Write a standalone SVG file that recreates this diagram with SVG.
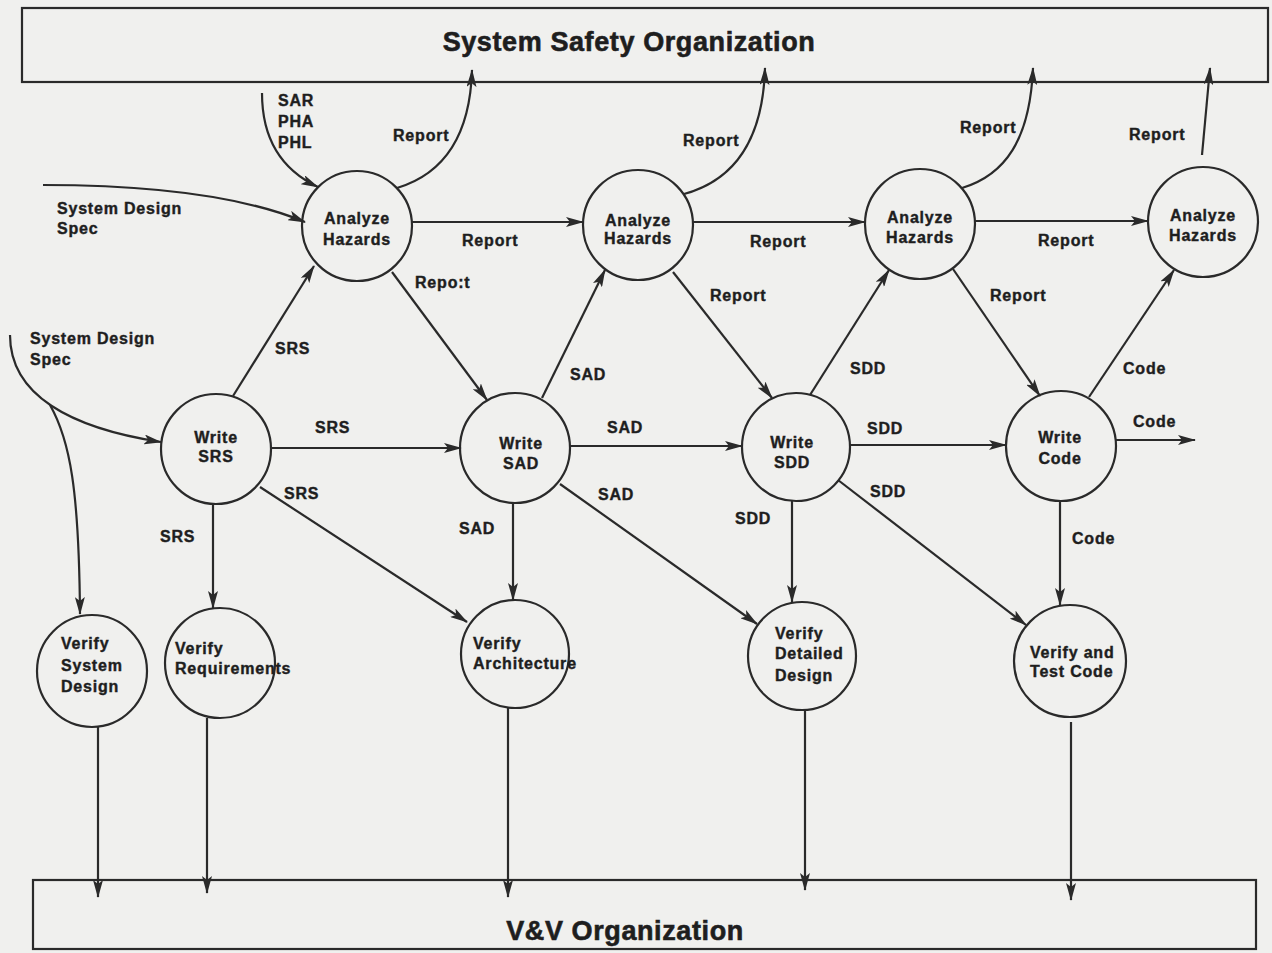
<svg xmlns="http://www.w3.org/2000/svg" width="1272" height="953" viewBox="0 0 1272 953">
<style>
.bg{fill:#f0f0ee}
.box{fill:none;stroke:#2a2a2a;stroke-width:2.2}
.node{fill:none;stroke:#2a2a2a;stroke-width:2.2}
.c{fill:none;stroke:#2a2a2a;stroke-width:2.2;marker-end:url(#ah)}
text{font-family:"Liberation Sans",Arial,Helvetica,sans-serif;font-weight:bold;fill:#1e1e1e;stroke:#1e1e1e;stroke-width:0.4;font-size:16px;letter-spacing:0.8px}
.t{text-anchor:middle}
.title{font-size:27px;letter-spacing:0.6px;text-anchor:middle;stroke-width:0.6}
</style>
<defs>
<marker id="ah" viewBox="0 0 18 10" refX="17" refY="5" markerWidth="18" markerHeight="10" markerUnits="userSpaceOnUse" orient="auto">
<path d="M0,0 L18,5 L0,10 L4,5 z" fill="#2a2a2a"/>
</marker>
</defs>
<rect class="bg" x="0" y="0" width="1272" height="953"/>

<g id="system-safety-org">
<rect class="box" x="22" y="8" width="1246" height="74"/>
<text class="title" x="629" y="51">System Safety Organization</text>
</g>
<g id="vv-org">
<rect class="box" x="33" y="880" width="1223" height="69"/>
<text class="title" x="625" y="940">V&amp;V Organization</text>
</g>

<g id="analyze1"><circle class="node" cx="357" cy="226" r="55"/><text class="t" x="357" y="224">Analyze</text><text class="t" x="357" y="245">Hazards</text></g>
<g id="analyze2"><circle class="node" cx="638" cy="225" r="55"/><text class="t" x="638" y="226">Analyze</text><text class="t" x="638" y="244">Hazards</text></g>
<g id="analyze3"><circle class="node" cx="920" cy="224" r="55"/><text class="t" x="920" y="223">Analyze</text><text class="t" x="920" y="243">Hazards</text></g>
<g id="analyze4"><circle class="node" cx="1203" cy="222" r="55"/><text class="t" x="1203" y="221">Analyze</text><text class="t" x="1203" y="241">Hazards</text></g>

<g id="write-srs"><circle class="node" cx="216" cy="449" r="55"/><text class="t" x="216" y="443">Write</text><text class="t" x="216" y="462">SRS</text></g>
<g id="write-sad"><circle class="node" cx="515" cy="448" r="55"/><text class="t" x="521" y="449">Write</text><text class="t" x="521" y="469">SAD</text></g>
<g id="write-sdd"><circle class="node" cx="796" cy="447" r="54"/><text class="t" x="792" y="448">Write</text><text class="t" x="792" y="468">SDD</text></g>
<g id="write-code"><circle class="node" cx="1061" cy="446" r="55"/><text class="t" x="1060" y="443">Write</text><text class="t" x="1060" y="464">Code</text></g>

<g id="verify-system-design"><ellipse class="node" cx="92" cy="671" rx="55" ry="56"/><text x="61" y="649">Verify</text><text x="61" y="671">System</text><text x="61" y="692">Design</text></g>
<g id="verify-requirements"><circle class="node" cx="220" cy="663" r="55"/><text x="175" y="654">Verify</text><text x="175" y="674">Requirements</text></g>
<g id="verify-architecture"><circle class="node" cx="515" cy="654" r="54"/><text x="473" y="649">Verify</text><text x="473" y="669">Architecture</text></g>
<g id="verify-detailed-design"><circle class="node" cx="802" cy="656" r="54"/><text x="775" y="639">Verify</text><text x="775" y="659">Detailed</text><text x="775" y="681">Design</text></g>
<g id="verify-test-code"><circle class="node" cx="1070" cy="661" r="56"/><text x="1030" y="658">Verify and</text><text x="1030" y="677">Test Code</text></g>

<g id="connectors">
<path class="c" d="M262,93 C262,140 282,170 318,187"/>
<path class="c" d="M43,185 C150,185 240,195 305,222"/>
<path class="c" d="M397,188 C440,175 470,140 472,70"/>
<path class="c" d="M684,194 C735,180 763,140 765,68"/>
<path class="c" d="M962,188 C1005,175 1030,140 1033,68"/>
<path class="c" d="M1202,155 L1210,68"/>
<path class="c" d="M412,222 L583,222"/>
<path class="c" d="M693,222 L865,222"/>
<path class="c" d="M975,221 L1148,221"/>
<path class="c" d="M392,272 L487,400"/>
<path class="c" d="M673,272 L772,398"/>
<path class="c" d="M953,269 L1040,396"/>
<path class="c" d="M233,396 L314,266"/>
<path class="c" d="M542,398 L605,270"/>
<path class="c" d="M810,395 L889,270"/>
<path class="c" d="M1089,397 L1174,270"/>
<path class="c" d="M271,448 L461,448"/>
<path class="c" d="M570,446 L742,446"/>
<path class="c" d="M850,445 L1006,445"/>
<path class="c" d="M1116,440 L1195,440"/>
<path class="c" d="M213,504 L213,608"/>
<path class="c" d="M513,503 L513,600"/>
<path class="c" d="M792,501 L792,602"/>
<path class="c" d="M1060,501 L1060,605"/>
<path class="c" d="M260,487 L467,622"/>
<path class="c" d="M560,484 L757,624"/>
<path class="c" d="M838,480 L1026,625"/>
<path class="c" d="M10,335 C10,395 70,428 161,442"/>
<path class="c" d="M50,405 C70,440 79,490 80,614"/>
<path class="c" d="M98,727 L98,897"/>
<path class="c" d="M207,718 L207,893"/>
<path class="c" d="M508,708 L508,897"/>
<path class="c" d="M805,711 L805,890"/>
<path class="c" d="M1071,722 L1071,900"/>
</g>

<g id="labels">
<text x="278" y="106">SAR</text>
<text x="278" y="127">PHA</text>
<text x="278" y="148">PHL</text>
<text x="57" y="214">System Design</text>
<text x="57" y="234">Spec</text>
<text x="393" y="141">Report</text>
<text x="683" y="146">Report</text>
<text x="960" y="133">Report</text>
<text x="1129" y="140">Report</text>
<text x="462" y="246">Report</text>
<text x="750" y="247">Report</text>
<text x="1038" y="246">Report</text>
<text x="415" y="288">Repo:t</text>
<text x="710" y="301">Report</text>
<text x="990" y="301">Report</text>
<text x="275" y="354">SRS</text>
<text x="570" y="380">SAD</text>
<text x="850" y="374">SDD</text>
<text x="1123" y="374">Code</text>
<text x="30" y="344">System Design</text>
<text x="30" y="365">Spec</text>
<text x="315" y="433">SRS</text>
<text x="607" y="433">SAD</text>
<text x="867" y="434">SDD</text>
<text x="1133" y="427">Code</text>
<text x="284" y="499">SRS</text>
<text x="598" y="500">SAD</text>
<text x="870" y="497">SDD</text>
<text x="160" y="542">SRS</text>
<text x="459" y="534">SAD</text>
<text x="735" y="524">SDD</text>
<text x="1072" y="544">Code</text>
</g>
</svg>
